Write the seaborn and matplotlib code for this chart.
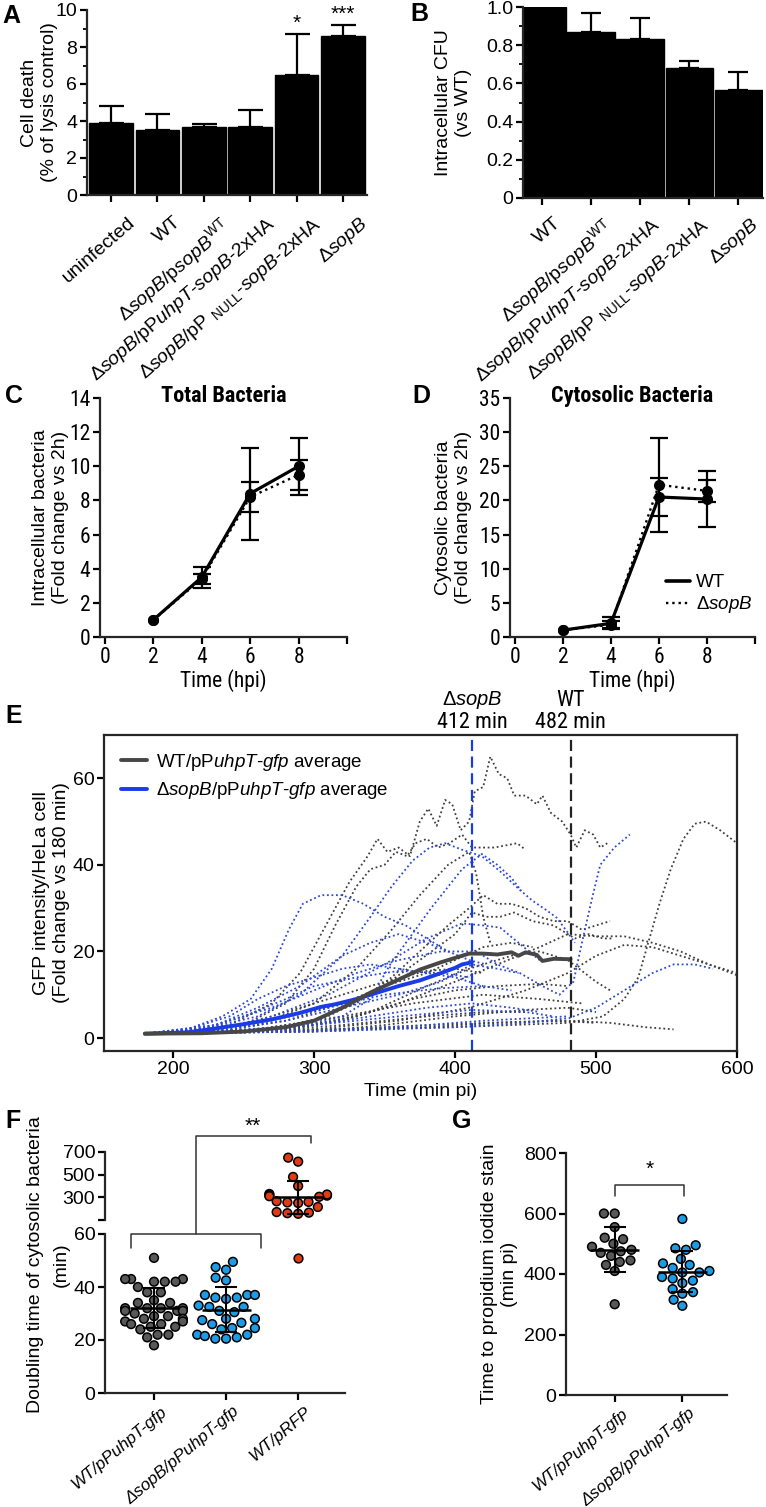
import numpy as np
import pandas as pd
import matplotlib
matplotlib.use("Agg")
import matplotlib.pyplot as plt
import matplotlib.transforms as mtrans
import seaborn as sns
from matplotlib import font_manager
from matplotlib.font_manager import FontProperties
from matplotlib.lines import Line2D
from matplotlib.ticker import MultipleLocator, FixedLocator, FuncFormatter

# ------------------------------------------------------------------ data
# Panel A
a_labels = ["uninfected", "WT",
            "Δ$\\mathit{sopB}$/p$\\mathit{sopB}^{\\mathrm{WT}}$",
            "Δ$\\mathit{sopB}$/pP$\\mathit{uhpT}$-$\\mathit{sopB}$-2xHA",
            "Δ$\\mathit{sopB}$/pP $_{\\mathrm{NULL}}$-$\\mathit{sopB}$-2xHA",
            "Δ$\\mathit{sopB}$"]
a_values = [3.9, 3.5, 3.65, 3.65, 6.5, 8.6]
a_err = [0.9, 0.9, 0.2, 0.95, 2.2, 0.6]
a_stars = ["", "", "", "", "*", "***"]

# Panel B
b_labels = a_labels[1:]
b_values = [1.0, 0.87, 0.83, 0.68, 0.565]
b_err = [0.0, 0.10, 0.115, 0.035, 0.095]

# Panels C / D
cd_time = [2, 4, 6, 8]
c_wt = [1.0, 3.5, 8.4, 10.0]
c_wt_err = [0.0, 0.62, 2.7, 1.67]
c_ko = [1.0, 3.4, 8.2, 9.5]
c_ko_err = [0.0, 0.3, 0.9, 0.87]
d_wt = [1.0, 2.0, 20.5, 20.2]
d_wt_err = [0.0, 0.9, 2.8, 4.1]
d_ko = [1.0, 1.8, 22.3, 21.4]
d_ko_err = [0.0, 0.5, 6.9, 1.6]

# Panel E : individual cells (time min pi, GFP fold change)
wt_tr01 = [(180,1),(240,3),(270,8),(290,15),(310,27),(325,36),(338,42),(345,46),(352,43),(360,44),(368,42),
           (375,50),(381,53),(387,49),(393,55),(398,54),(404,48),(410,50),(414,57),(420,58),(425,65),(431,61),
           (437,60),(442,56),(450,56),(458,54),(462,56),(468,52),(476,50),(482,47),(486,44),(492,48),(498,47),
           (503,44),(508,45)]
wt_tr02 = [(180,1),(250,3),(280,8),(300,16),(315,26),(330,35),(340,39),(350,40),(358,43),(366,42),(372,45),
           (380,46),(388,44),(396,45),(405,47),(412,44),(420,44),(428,44),(436,44.5),(444,45),(450,43.5)]
wt_tr03 = [(180,1),(300,2),(400,2.5),(480,3.5),(505,5),(520,9),(530,14),(537,22),(545,31),(553,39),(562,46),
           (570,49.5),(578,50),(588,48),(600,45)]
wt_tr04 = [(180,1),(260,2),(300,4),(330,8),(355,14),(375,20),(395,26),(410,30),(420,33),(430,31),(440,31),
           (450,30),(460,28),(470,27),(480,27),(490,25),(500,26),(510,27)]
wt_tr05 = [(180,1),(270,2),(310,5),(345,11),(375,18),(400,24),(412,29),(422,28),(432,28),(442,29),(455,27),
           (470,26),(485,23),(495,24),(505,23),(512,23)]
wt_tr06 = [(180,1),(280,2),(320,4),(360,8),(400,13),(430,17),(460,21),(480,24),(500,23.5),(520,23.5),
           (540,22),(560,20),(580,17),(600,14.5)]
wt_tr07 = [(180,1),(300,2),(360,4),(410,7),(450,11),(480,15),(500,19),(520,21.5),(540,21),(560,19),
           (580,17),(600,15)]
wt_tr08 = [(180,1),(300,1.5),(380,2.5),(430,3.5),(480,4),(510,3.5),(535,2.5),(555,2)]
wt_tr09 = [(180,1),(260,3),(300,8),(330,16),(355,25),(375,33),(395,40),(410,43),(415,38),(420,28),(425,22)]
wt_tr10 = [(180,1),(250,1.5),(300,3),(340,6),(380,12),(410,16),(440,19),(460,20),(480,18),(500,13),(510,11)]
wt_tr11 = [(180,1),(240,2),(280,4),(320,8),(350,12),(380,15),(400,18),(420,21),(440,22),(455,21)]
wt_tr12 = [(180,1),(300,1.5),(350,3),(400,5),(450,6.5),(480,7),(500,6)]
wt_tr13 = [(180,1),(280,2),(330,5),(370,9),(400,11),(430,12),(460,12.5),(480,12)]
wt_tr14 = [(180,1),(230,2),(260,4),(290,7),(320,10),(350,13),(380,15.5),(400,16),(420,15)]
wt_tr15 = [(180,1),(260,1.5),(320,3),(380,5),(420,6),(450,6)]
wt_tr16 = [(180,1),(280,1.5),(350,2.5),(420,3.5),(470,4),(500,3.5)]
wt_tr17 = [(180,1),(260,2),(320,5),(370,8),(420,10),(460,9),(490,8)]

ko_tr01 = [(180,1),(210,2),(235,5),(255,9),(270,16),(282,25),(292,31),(305,33),(320,33),(335,31),(350,28),
           (365,26),(380,23),(395,20),(410,18),(422,17)]
ko_tr02 = [(180,1),(220,2),(260,5),(290,10),(320,19),(340,28),(355,35),(370,41),(382,44),(393,45),(405,43.5),
           (419,42),(432,38.5),(445,34.5),(455,31.7),(465,29.5),(472,27.8),(479,24.8),(485,22)]
ko_tr03 = [(180,1),(280,2),(320,5),(340,9),(354,17),(383,30),(405,39),(419,42.5),(430,40),(440,37),(447,34)]
ko_tr04 = [(180,1),(230,3),(270,7),(300,11),(330,15),(360,18),(390,20),(415,20),(430,17),(446,15),(462,12),
           (474,10),(484,13),(490,22),(497,32),(503,40),(513,44),(524,47)]
ko_tr05 = [(180,1),(230,2),(270,5),(310,10),(350,17),(380,23),(405,26.5),(420,26),(432,25.5),(445,22),(460,18)]
ko_tr06 = [(180,1),(300,1.5),(400,2.5),(450,3.5),(481,4.6),(500,7),(520,11),(540,15),(555,17),(570,17),(583,16)]
ko_tr07 = [(180,1),(210,2),(240,5),(260,9),(280,12),(300,14),(320,16),(340,17),(360,16),(380,15),(400,14),(420,12)]
ko_tr08 = [(180,1),(220,2),(250,5),(280,9),(300,12),(330,14),(360,15.5),(390,15),(410,14)]
ko_tr09 = [(180,1),(240,2),(280,4),(320,7),(360,10),(390,13),(412,17),(430,16),(445,15)]
ko_tr10 = [(180,1),(250,2),(300,3),(340,5),(380,7),(412,8),(440,7),(460,6)]
ko_tr11 = [(180,1),(260,1.5),(320,2),(380,3),(420,4),(450,4.5),(480,5)]
ko_tr12 = [(180,1),(230,3),(260,7),(290,12),(320,19),(340,22),(360,24),(380,22),(395,20)]
ko_tr13 = [(180,1),(240,1.5),(300,3),(360,5),(412,6.5),(450,6),(470,5)]
ko_tr14 = [(180,1),(230,2),(270,4),(310,7),(350,10),(390,11.5),(420,12),(440,11)]

wt_avg_t = [180, 220, 250, 280, 300, 320, 340, 360, 375, 390, 400, 410, 420, 430, 440, 445, 450, 458, 462, 470, 482]
wt_avg_y = [1, 1.1, 1.5, 2.5, 4, 7, 10.5, 13.5, 15.8, 17.5, 18.5, 19.5, 19.5, 19.3, 19.8, 19, 19.8, 19.2, 17.8, 18.3, 18.2]
ko_avg_t = [180, 210, 230, 250, 270, 290, 305, 315, 330, 345, 360, 375, 390, 400, 405, 412]
ko_avg_y = [1, 1.3, 2.2, 3.2, 4.3, 5.8, 7.2, 7.8, 9, 10.5, 12, 13.3, 15, 16.2, 17, 17.5]
e_death_ko = 412
e_death_wt = 482

# Panel F : doubling time (min)
f_groups = ["WT/pPuhpT-gfp", "ΔsopB/pPuhpT-gfp", "WT/pRFP"]
f_wt = [51, 43, 43, 42, 43, 42, 42, 40, 38, 38, 35, 34, 34, 32, 32, 31, 32, 31, 32, 31,
        30, 29, 29, 28, 28, 27, 27, 26, 26, 25, 25, 24, 22, 22, 21, 18]
f_ko = [49.5, 47.5, 46.5, 43.5, 42.5, 37, 37, 37, 36, 36, 35.5, 33, 32.5, 32.5, 31,
        30.5, 28, 28, 27.5, 26.5, 26, 24.5, 24.5, 24, 22, 22, 21.5, 21, 20.5, 20.5]
f_rfp = [650, 615, 480, 400, 330, 320, 315, 310, 325, 305, 260, 255, 250, 265, 215, 170, 160, 165, 155, 51]

# Panel G : time to PI stain (min pi)
g_groups = ["WT/pPuhpT-gfp", "ΔsopB/pPuhpT-gfp"]
g_wt = [600, 600, 555, 520, 515, 500, 490, 480, 475, 470, 460, 445, 440, 430, 410, 300]
g_ko = [582, 495, 485, 480, 450, 435, 430, 410, 405, 405, 390, 378, 385, 350, 335, 315, 295, 340, 370, 420]

# ------------------------------------------------------------------ style
sns.set_theme(style="ticks")
_names = {f.name for f in font_manager.fontManager.ttflist}
REG = "Liberation Sans" if "Liberation Sans" in _names else "DejaVu Sans"
plt.rcParams["font.family"] = [REG, "DejaVu Sans"]
plt.rcParams["mathtext.fontset"] = "custom"
plt.rcParams["mathtext.rm"] = REG
plt.rcParams["mathtext.it"] = REG + ":italic"
plt.rcParams["mathtext.bf"] = REG + ":bold"
plt.rcParams["axes.linewidth"] = 1.6
for k in ["text.color", "axes.labelcolor", "xtick.color", "ytick.color"]:
    plt.rcParams[k] = "black"


def _weight(f):
    w = f.weight
    if isinstance(w, (int, float)):
        return w
    return {"bold": 700, "normal": 400, "regular": 400, "book": 400, "medium": 500}.get(str(w).lower(), 400)


def find_condensed(bold):
    prefs = ["Liberation Sans Narrow", "Arial Narrow", "Roboto Condensed", "Open Sans Condensed",
             "Noto Sans", "Open Sans", "Roboto", "DejaVu Sans"]
    best = None
    for f in font_manager.fontManager.ttflist:
        st = str(f.stretch).lower()
        nm = f.name
        cond = ("narrow" in nm.lower() or "condensed" in nm.lower()
                or st in ("condensed", "semi-condensed", "extra-condensed", "ultra-condensed")
                or (isinstance(f.stretch, (int, float)) and f.stretch < 500))
        if not cond or f.style != "normal":
            continue
        w = _weight(f)
        if bold and w < 600:
            continue
        if not bold and not (350 <= w <= 500):
            continue
        rank = next((i for i, p in enumerate(prefs) if nm.startswith(p)), len(prefs))
        if "semi" in st or "extra" in st or "ultra" in st:
            rank += 0.5
        if best is None or rank < best[0]:
            best = (rank, f.fname)
    return best[1] if best else None


_cond_reg = find_condensed(False)
_cond_bold = find_condensed(True)


def narrow(size, bold=False):
    path = _cond_bold if bold else _cond_reg
    if path:
        return FontProperties(fname=path, size=size)
    return FontProperties(family=REG, size=size * 0.88, weight="bold" if bold else "normal")


GREY_E = "#3f3f3f"
BLUE_E = "#2b48d6"
GREY_DOT = "#585858"
BLUE_DOT = "#1d9be6"
RED_DOT = "#e23a12"

W, H = 766, 1507
fig = plt.figure(figsize=(W / 100, H / 100), dpi=100)


def rect(l, t, r, b):
    return [l / W, 1 - b / H, (r - l) / W, (b - t) / H]


def base_style(ax, size=13, box=False):
    if not box:
        ax.spines["top"].set_visible(False)
        ax.spines["right"].set_visible(False)
    ax.tick_params(direction="out", length=5, width=1.6, labelsize=size, pad=2)
    ax.tick_params(which="minor", direction="out", length=3, width=1.3)


def letter(x, y, s):
    fig.text(x / W, 1 - y / H, s, fontsize=18, fontweight="bold", ha="left", va="center")


def ylabel_at(ax, text, right_px, left_px, width_px, size):
    ax.set_ylabel(text, fontsize=size, multialignment="center")
    ax.yaxis.set_label_coords((right_px - left_px) / width_px, 0.5)


def shift_xlabels(ax, dx_px, dy_px):
    off = mtrans.ScaledTranslation(dx_px / 100, -dy_px / 100, fig.dpi_scale_trans)
    for lab in ax.get_xticklabels():
        lab.set_transform(lab.get_transform() + off)


# ------------------------------------------------------------------ A
axA = fig.add_axes(rect(87, 10, 367, 195))
sns.barplot(x=a_labels, y=a_values, color="black", saturation=1, width=0.94,
            errorbar=None, edgecolor="black", ax=axA)
n = len(a_values)
axA.errorbar(np.arange(n), a_values, yerr=[np.zeros(n), a_err], fmt="none",
             ecolor="black", elinewidth=1.6, capsize=9, capthick=1.6)
for i, (v, e, s) in enumerate(zip(a_values, a_err, a_stars)):
    if s:
        axA.text(i, v + e + 0.05, s, ha="center", va="bottom", fontsize=15, clip_on=False)
axA.set_xlim(-0.52, n - 0.48)
axA.set_ylim(0, 10)
axA.yaxis.set_major_locator(FixedLocator([0, 2, 4, 6, 8, 10]))
axA.yaxis.set_minor_locator(MultipleLocator(1))
base_style(axA, size=14)
axA.tick_params(axis="x", labelsize=14, labelrotation=41)
plt.setp(axA.get_xticklabels(), ha="right", rotation_mode="anchor")
shift_xlabels(axA, 16, 9)
ylabel_at(axA, "Cell death\n(% of lysis control)", 58, 87, 280, 14)
letter(2, 16, "A")

# ------------------------------------------------------------------ B
axB = fig.add_axes(rect(523, 7, 763, 198))
sns.barplot(x=b_labels, y=b_values, color="black", saturation=1, width=0.97,
            errorbar=None, edgecolor="black", ax=axB)
bi = [i for i, e in enumerate(b_err) if e > 0]
axB.errorbar(bi, [b_values[i] for i in bi], yerr=[[0] * len(bi), [b_err[i] for i in bi]],
             fmt="none", ecolor="black", elinewidth=1.6, capsize=7, capthick=1.6)
axB.set_xlim(-0.39, 4.5)
axB.set_ylim(0, 1.0)
axB.yaxis.set_major_locator(FixedLocator([0, 0.2, 0.4, 0.6, 0.8, 1.0]))
axB.yaxis.set_minor_locator(MultipleLocator(0.1))
axB.yaxis.set_major_formatter(FuncFormatter(lambda v, p: "0" if abs(v) < 1e-9 else f"{v:.1f}"))
base_style(axB, size=14)
axB.tick_params(axis="x", labelsize=14, labelrotation=41)
plt.setp(axB.get_xticklabels(), ha="right", rotation_mode="anchor")
shift_xlabels(axB, 11, 7)
ylabel_at(axB, "Intracellular CFU\n(vs WT)", 472, 523, 240, 14)
letter(410, 14, "B")


# ------------------------------------------------------------------ C / D
def time_panel(ax, wt, wt_err, ko, ko_err, ymax, ystep, title):
    for y, err, ls, lw in [(ko, ko_err, ":", 1.7), (wt, wt_err, "-", 2.3)]:
        sns.lineplot(x=cd_time, y=y, ax=ax, color="black", lw=lw, marker="o",
                     markersize=8, markeredgewidth=0, estimator=None)
        ax.lines[-1].set_linestyle(ls)
        idx = [i for i, e in enumerate(err) if e > 0]
        ax.errorbar([cd_time[i] for i in idx], [y[i] for i in idx], yerr=[err[i] for i in idx],
                    fmt="none", ecolor="black", elinewidth=1.6, capsize=6.5, capthick=1.6)
    ax.set_xlim(-0.2, 10)
    ax.set_ylim(0, ymax)
    ax.xaxis.set_major_locator(FixedLocator([0, 2, 4, 6, 8]))
    ax.xaxis.set_minor_locator(FixedLocator([10]))
    ax.yaxis.set_major_locator(MultipleLocator(ystep))
    base_style(ax, size=15)
    ax.tick_params(which="minor", length=5, width=1.6)
    for t in ax.get_xticklabels() + ax.get_yticklabels():
        t.set_fontproperties(narrow(15.5))
    ax.set_xlabel("Time (hpi)", fontproperties=narrow(15.5), labelpad=1)
    ax.text(0.5, 1.01, title, transform=ax.transAxes, ha="center", va="center",
            fontproperties=narrow(16, bold=True))


axC = fig.add_axes(rect(100, 398, 347, 637))
time_panel(axC, c_wt, c_wt_err, c_ko, c_ko_err, 14, 2, "Total Bacteria")
ylabel_at(axC, "Intracellular bacteria\n(Fold change vs 2h)", 69, 100, 247, 14)
letter(5, 396, "C")

axD = fig.add_axes(rect(510, 398, 755, 637))
time_panel(axD, d_wt, d_wt_err, d_ko, d_ko_err, 35, 5, "Cytosolic Bacteria")
ylabel_at(axD, "Cytosolic bacteria\n(Fold change vs 2h)", 472, 510, 245, 14)
h_wt = Line2D([], [], color="black", lw=2.6, ls="-")
h_ko = Line2D([], [], color="black", lw=1.7, ls=":")
axD.legend([h_wt, h_ko], ["WT", "Δ$\\mathit{sopB}$"], loc="lower right",
           bbox_to_anchor=(1.02, 0.06), frameon=False, fontsize=13.5, handlelength=1.3,
           handletextpad=0.3, labelspacing=0.15, borderaxespad=0)
letter(412, 396, "D")

# ------------------------------------------------------------------ E
axE = fig.add_axes(rect(104, 735, 737, 1051))
wt_traces = [wt_tr01, wt_tr02, wt_tr03, wt_tr04, wt_tr05, wt_tr06, wt_tr07, wt_tr08, wt_tr09,
             wt_tr10, wt_tr11, wt_tr12, wt_tr13, wt_tr14, wt_tr15, wt_tr16, wt_tr17]
ko_traces = [ko_tr01, ko_tr02, ko_tr03, ko_tr04, ko_tr05, ko_tr06, ko_tr07, ko_tr08, ko_tr09,
             ko_tr10, ko_tr11, ko_tr12, ko_tr13, ko_tr14]
for traces, col in [(wt_traces, GREY_E), (ko_traces, BLUE_E)]:
    for tr in traces:
        t, y = zip(*tr)
        sns.lineplot(x=list(t), y=list(y), ax=axE, color=col, lw=1.3, estimator=None)
        axE.lines[-1].set_linestyle((0, (1, 1.5)))
sns.lineplot(x=ko_avg_t, y=ko_avg_y, ax=axE, color="#1a3be6", lw=2.8, estimator=None)
l_ko = axE.lines[-1]
sns.lineplot(x=wt_avg_t, y=wt_avg_y, ax=axE, color="#474747", lw=2.8, estimator=None)
l_wt = axE.lines[-1]
axE.axvline(e_death_ko, color="#1a3be6", lw=1.6, ls=(0, (5, 2.5)))
axE.axvline(e_death_wt, color="#222222", lw=1.6, ls=(0, (5, 2.5)))
xt = axE.get_xaxis_transform()
axE.text(e_death_ko, 1.11, "Δ$\\mathit{sopB}$", transform=xt, ha="center", va="center",
         fontsize=14.5)
axE.text(e_death_ko, 1.038, f"{e_death_ko} min", transform=xt, ha="center", va="center",
         fontproperties=narrow(16))
axE.text(e_death_wt, 1.11, "WT", transform=xt, ha="center", va="center", fontproperties=narrow(16))
axE.text(e_death_wt, 1.038, f"{e_death_wt} min", transform=xt, ha="center", va="center",
         fontproperties=narrow(16))
axE.set_xlim(151, 600)
axE.set_ylim(-3, 70)
axE.xaxis.set_major_locator(FixedLocator([200, 300, 400, 500, 600]))
axE.yaxis.set_major_locator(FixedLocator([0, 20, 40, 60]))
base_style(axE, size=14, box=True)
axE.set_xlabel("Time (min pi)", fontsize=14, labelpad=4)
ylabel_at(axE, "GFP intensity/HeLa cell\n(Fold change vs 180 min)", 70, 104, 633, 14)
axE.legend([l_wt, l_ko], ["WT/pP$\\mathit{uhpT}$-$\\mathit{gfp}$ average",
                          "Δ$\\mathit{sopB}$/pP$\\mathit{uhpT}$-$\\mathit{gfp}$ average"],
           loc="upper left", frameon=False, fontsize=13.5, handlelength=1.4,
           handletextpad=0.5, labelspacing=0.4, borderaxespad=0.5)
letter(5, 716, "E")

# ------------------------------------------------------------------ F
df_f = pd.DataFrame({
    "group": [f_groups[0]] * len(f_wt) + [f_groups[1]] * len(f_ko) + [f_groups[2]] * len(f_rfp),
    "value": f_wt + f_ko + f_rfp,
})
f_cols = [GREY_DOT, BLUE_DOT, RED_DOT]
axFu = fig.add_axes(rect(105, 1152, 345, 1220))
axFl = fig.add_axes(rect(105, 1234, 345, 1393))
for ax, sub, lims in [(axFu, df_f[df_f.value >= 100], (100, 700)),
                      (axFl, df_f[df_f.value <= 60], (0, 60))]:
    ax.set_xlim(-0.68, 2.65)
    ax.set_ylim(*lims)
    sns.swarmplot(data=sub, x="group", y="value", order=f_groups, hue="group",
                  hue_order=f_groups, palette=f_cols, size=6.3, edgecolor="black",
                  linewidth=1.1, ax=ax, legend=False)
    ax.set_xlim(-0.68, 2.65)
    ax.set_ylim(*lims)
for i, vals in enumerate([f_wt, f_ko, f_rfp]):
    m, sd = np.mean(vals), np.std(vals, ddof=1)
    ax = axFu if m > 100 else axFl
    ax.hlines(m, i - 0.34, i + 0.34, color="black", lw=1.8, zorder=6)
    ax.errorbar(i, m, yerr=sd, fmt="none", ecolor="black", elinewidth=1.5,
                capsize=8, capthick=1.5, zorder=6)
axFu.spines["bottom"].set_visible(False)
axFu.tick_params(axis="x", bottom=False, labelbottom=False)
axFu.yaxis.set_major_locator(FixedLocator([100, 300, 500, 700]))
axFu.yaxis.set_major_formatter(FuncFormatter(lambda v, p: "" if v < 200 else f"{v:.0f}"))
axFl.yaxis.set_major_locator(FixedLocator([0, 20, 40, 60]))
for ax in (axFu, axFl):
    base_style(ax, size=14)
    ax.set_xlabel("")
    ax.set_ylabel("")
axFl.set_xticks(range(3))
axFl.set_xticklabels(["WT/pPuhpT-gfp", "ΔsopB/pPuhpT-gfp", "WT/pRFP"],
                     rotation=40, ha="right", rotation_mode="anchor",
                     fontsize=12.3, fontstyle="italic")
shift_xlabels(axFl, 6, 1)
br = dict(color="#333333", lw=1.1, clip_on=False)
axFl.plot([-0.32, -0.32, 1.49, 1.49], [54.7, 60, 60, 54.7], **br)
axFl.plot([0.585, 0.585, 2.18, 2.18], [60, 97, 97, 94.3], **br)
axFl.text(1.375, 100.5, "**", ha="center", va="center", fontsize=15, clip_on=False)
fig.text(36 / W, 1 - 1265 / H, "Doubling time of cytosolic bacteria", rotation=90,
         ha="center", va="center", fontsize=14)
fig.text(61 / W, 1 - 1265 / H, "(min)", rotation=90, ha="center", va="center", fontsize=14)
letter(5, 1121, "F")

# ------------------------------------------------------------------ G
df_g = pd.DataFrame({
    "group": [g_groups[0]] * len(g_wt) + [g_groups[1]] * len(g_ko),
    "value": g_wt + g_ko,
})
axG = fig.add_axes(rect(566, 1153, 727, 1395))
axG.set_xlim(-0.72, 1.66)
axG.set_ylim(0, 800)
sns.swarmplot(data=df_g, x="group", y="value", order=g_groups, hue="group",
              hue_order=g_groups, palette=[GREY_DOT, BLUE_DOT], size=6.3, edgecolor="black",
              linewidth=1.1, ax=axG, legend=False)
for i, vals in enumerate([g_wt, g_ko]):
    m, sd = np.mean(vals), np.std(vals, ddof=1)
    axG.hlines(m, i - 0.36, i + 0.36, color="black", lw=1.8, zorder=6)
    axG.errorbar(i, m, yerr=sd, fmt="none", ecolor="black", elinewidth=1.5,
                 capsize=8, capthick=1.5, zorder=6)
axG.set_xlim(-0.72, 1.66)
axG.set_ylim(0, 800)
axG.yaxis.set_major_locator(FixedLocator([0, 200, 400, 600, 800]))
base_style(axG, size=14)
axG.set_xlabel("")
axG.set_xticks(range(2))
axG.set_xticklabels(["WT/pPuhpT-gfp", "ΔsopB/pPuhpT-gfp"], rotation=40, ha="right",
                    rotation_mode="anchor", fontsize=12.3, fontstyle="italic")
shift_xlabels(axG, 6, 1)
ylabel_at(axG, "Time to propidium iodide stain\n(min pi)", 518, 566, 161, 14)
axG.plot([0, 0, 1.03, 1.03], [658, 694, 694, 658], **br)
axG.text(0.51, 745, "*", ha="center", va="center", fontsize=15)
letter(452, 1121, "G")

fig.savefig("out.png", dpi=100)
